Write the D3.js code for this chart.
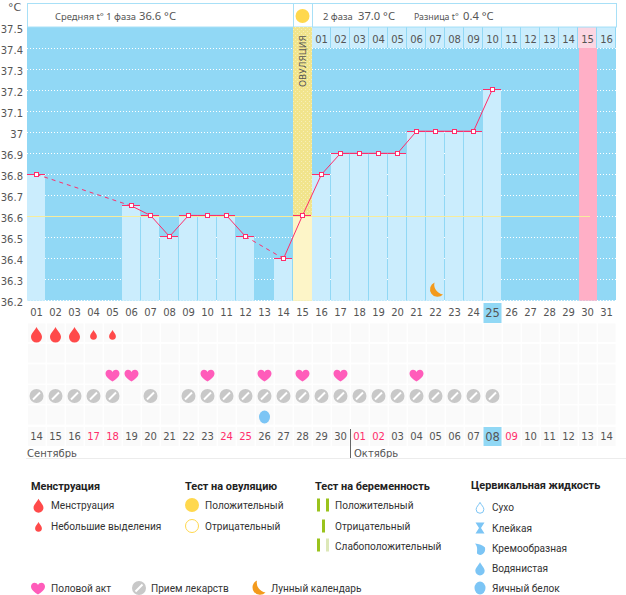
<!DOCTYPE html>
<html>
<head>
<meta charset="utf-8">
<script src="https://cdn.jsdelivr.net/npm/d3@7"></script>
<style>
body {margin: 0; background: #fff;}
svg {display: block;}
text {font-family: "DejaVu Sans", sans-serif; fill: #555;}
.axis path, .axis line {display: none;}
.leg text {font-family: Roboto, sans-serif; font-size: 10.1px; fill: #333;}
.leg text.ttl {font-weight: bold; font-size: 10.9px; fill: #222;}
</style>
</head>
<body>
<div id="chart"></div>
<script>
var days = d3.range(1, 32);
var dates = [14,15,16,17,18,19,20,21,22,23,24,25,26,27,28,29,30,1,2,3,4,5,6,7,8,9,10,11,12,13,14];
var redDates = [4,5,11,12,18,19,26];
var cycleLabels = [1,2,3,4,5,6,7,8,9,10,11,12,13,14,15,16];
var tempTicks = [36.2,36.3,36.4,36.5,36.6,36.7,36.8,36.9,37,37.1,37.2,37.3,37.4,37.5];
var tempDays = [1,6,7,8,9,10,11,12,14,15,16,17,18,19,20,21,22,23,24,25];
var tempVals = [36.8,36.65,36.605,36.505,36.605,36.605,36.605,36.505,36.4,36.605,36.8,36.9,36.9,36.9,36.9,37.005,37.005,37.005,37.005,37.205];
var bigDrops = [1,2,3];
var smallDrops = [4,5];
var hearts = [5,6,10,13,15,17,21];
var pills = [1,2,3,4,5,7,9,10,11,12,13,14,15,16,17,18,19,20,21,22,23,24,25];
var eggs = [13];
var moons = [22];
var ovulationDay = 15, periodDay = 30, todayDay = 25;
var phase1Mean = 36.6;

var svg = d3.select("#chart").append("svg").attr("width", 626).attr("height", 595);

var x = d3.scaleBand().domain(days).range([27, 616]);
var y = d3.scaleLinear().domain([36.2, 37.5]).range([300.7, 27]);
var cx = function(d) {return x(d) + x.bandwidth() / 2};
var two = function(d) {return d < 10 ? "0" + d : "" + d};

// dotted texture of the ovulation column
var dots = svg.append("defs").append("pattern").attr("id", "ovDots").attr("width", 4).attr("height", 4).attr("patternUnits", "userSpaceOnUse");
dots.append("rect").attr("width", 4).attr("height", 4).attr("fill", "#f1e48c");
dots.append("rect").attr("x", 1).attr("y", 1).attr("width", 1).attr("height", 1).attr("fill", "#f7efb8");
dots.append("rect").attr("x", 3).attr("y", 3).attr("width", 1).attr("height", 1).attr("fill", "#f7efb8");

// icons
var dropPath = function(s) {return "M0," + (-8*s) + "C" + (2*s) + "," + (-4*s) + " " + (5.5*s) + "," + (-1.5*s) + " " + (5.5*s) + "," + (2*s) + "A" + (5.5*s) + "," + (5.5*s) + " 0 1 1 " + (-5.5*s) + "," + (2*s) + "C" + (-5.5*s) + "," + (-1.5*s) + " " + (-2*s) + "," + (-4*s) + " 0," + (-8*s) + "Z"};
var heartPath = "M0,6.5C-3,4.5 -7,2 -7,-1.5C-7,-6 -1.5,-6.5 0,-3C1.5,-6.5 7,-6 7,-1.5C7,2 3,4.5 0,6.5Z";
var moonPath = "M-1,-7.5A7.5,7.5 0 1 0 7.5,4.5A10,10 0 0 1 -1,-7.5Z";

function pill(g, px, py) {
    g.append("circle").attr("cx", px).attr("cy", py).attr("r", 7).attr("fill", "#c8c8c8");
    g.append("line").attr("x1", px - 3.5).attr("x2", px + 3.5).attr("y1", py + 3.5).attr("y2", py - 3.5).attr("stroke", "#fff").attr("stroke-width", 2);
}

// plot background
svg.append("rect").attr("x", 27).attr("y", 27).attr("width", 589).attr("height", y(36.2) - 27).attr("fill", "#91d8f5");

// header
svg.append("rect").attr("x", 27.5).attr("y", 3.5).attr("width", 589).attr("height", 23.5).attr("fill", "#fff").attr("stroke", "#a8e0f7");
svg.selectAll(".hcell").data(days.slice(15)).enter().append("rect")
    .attr("x", function(d) {return x(d)})
    .attr("y", 27.5)
    .attr("width", x.bandwidth() - 1)
    .attr("height", 20.5)
    .attr("fill", function(d) {return d == periodDay ? "#fcd6e2" : "#cbedfd"});
svg.selectAll(".hlabel").data(cycleLabels).enter().append("text")
    .attr("x", function(d, i) {return cx(days[15 + i])})
    .attr("y", 43)
    .attr("text-anchor", "middle")
    .attr("font-size", 10)
    .text(two);
svg.append("line").attr("x1", 293.5).attr("x2", 293.5).attr("y1", 3).attr("y2", 27).attr("stroke", "#a8e0f7");
svg.append("line").attr("x1", 312.5).attr("x2", 312.5).attr("y1", 3).attr("y2", 27).attr("stroke", "#a8e0f7");
svg.append("circle").attr("cx", cx(ovulationDay)).attr("cy", 16).attr("r", 7).attr("fill", "#ffd84d");

var head = [[55, "Средняя t° 1 фаза", 9.4], [139, "36.6 °C", 11.2], [323, "2 фаза", 9.4], [358, "37.0 °C", 11.2], [414, "Разница t°", 8.8], [463, "0.4 °C", 11.2]];
svg.selectAll(".head").data(head).enter().append("text")
    .attr("x", function(d) {return d[0]})
    .attr("y", 19.5)
    .attr("font-size", function(d) {return d[2]})
    .style("font-family", "Noto Sans")
    .text(function(d) {return d[1]});
svg.append("text").attr("x", 8).attr("y", 11).attr("font-size", 11).text("°C");

// grid
svg.selectAll(".grid").data(tempTicks.slice(0, -1)).enter().append("line")
    .attr("x1", 27).attr("x2", 616)
    .attr("y1", function(d) {return y(d)})
    .attr("y2", function(d) {return y(d)})
    .attr("stroke", "#fff")
    .attr("stroke-dasharray", "1,2")
    .attr("shape-rendering", "crispEdges");

// ovulation and period columns
svg.append("rect").attr("x", x(periodDay) + 1).attr("y", 48).attr("width", x.bandwidth() - 1).attr("height", y(36.2) - 48).attr("fill", "#ffafc6");
svg.append("rect").attr("x", x(ovulationDay)).attr("y", 27).attr("width", x.bandwidth()).attr("height", y(36.2) - 27).attr("fill", "url(#ovDots)");

// bars
var temps = tempDays.map(function(d, i) {return {day: d, v: tempVals[i]}});
svg.selectAll(".bar").data(temps).enter().append("rect")
    .attr("x", function(d) {return x(d.day)})
    .attr("y", function(d) {return y(d.v)})
    .attr("width", function(d) {return d.day == ovulationDay ? x.bandwidth() : x.bandwidth() - 1})
    .attr("height", function(d) {return y(36.2) - y(d.v)})
    .attr("fill", function(d) {return d.day == ovulationDay ? "#fdf5c8" : "#cbedfd"});

svg.append("text")
    .attr("transform", "translate(" + (cx(ovulationDay) + 3.5) + ",87) rotate(-90)")
    .attr("font-size", 9)
    .text("ОВУЛЯЦИЯ");

// phase mean line
svg.append("line")
    .attr("x1", 27).attr("x2", cx(periodDay) + 2)
    .attr("y1", y(phase1Mean)).attr("y2", y(phase1Mean))
    .attr("stroke", "#f7ec9c")
    .attr("shape-rendering", "crispEdges");

// temperature line
var lineGen = d3.line().x(function(d) {return cx(d.day)}).y(function(d) {return y(d.v)});
d3.pairs(temps).forEach(function(p) {
    svg.append("path")
        .attr("d", lineGen(p))
        .attr("fill", "none")
        .attr("stroke", "#ff2d6b")
        .attr("stroke-dasharray", p[1].day - p[0].day > 1 ? "4,4" : null);
});
svg.selectAll(".cap").data(temps).enter().append("line")
    .attr("x1", function(d) {return x(d.day)})
    .attr("x2", function(d) {return x(d.day) + x.bandwidth() - 1})
    .attr("y1", function(d) {return y(d.v)})
    .attr("y2", function(d) {return y(d.v)})
    .attr("stroke", "#ff2d6b")
    .attr("shape-rendering", "crispEdges");
svg.selectAll(".pt").data(temps).enter().append("rect")
    .attr("x", function(d) {return cx(d.day) - 2})
    .attr("y", function(d) {return y(d.v) - 2})
    .attr("width", 4).attr("height", 4)
    .attr("fill", "#fff")
    .attr("stroke", "#ff2d6b")
    .attr("shape-rendering", "crispEdges");

svg.selectAll(".moon").data(moons).enter().append("path")
    .attr("d", moonPath)
    .attr("transform", function(d) {return "translate(" + cx(d) + ",290)"})
    .attr("fill", "#f39a1c");

// axes
var yAxis = d3.axisLeft(y).tickValues(tempTicks).tickSize(0).tickPadding(0)
    .tickFormat(function(d) {return d == 37 ? "37" : d3.format(".1f")(d)});
svg.append("g").attr("class", "axis").attr("transform", "translate(23,2)").call(yAxis)
    .selectAll("text").attr("font-family", "DejaVu Sans").attr("font-size", 10).style("fill", "#555");

// icon rows
var rows = [[323.5, 18.5], [344, 18.5], [364.5, 19], [385, 19], [405.5, 19], [427, 19]];
rows.forEach(function(r) {
    svg.append("g").selectAll("rect").data(days).enter().append("rect")
        .attr("x", function(d) {return x(d) + 1})
        .attr("y", r[0])
        .attr("width", x.bandwidth() - 1.5)
        .attr("height", r[1])
        .attr("fill", "#fafafa");
});

// today marks
svg.append("rect").attr("x", x(todayDay) + 0.5).attr("y", 303).attr("width", x.bandwidth() - 1).attr("height", 20).attr("fill", "#91d8f5");
svg.append("rect").attr("x", x(todayDay) + 0.5).attr("y", 427).attr("width", x.bandwidth() - 1).attr("height", 19).attr("fill", "#91d8f5");

var topAxis = d3.axisBottom(x).tickSize(0).tickPadding(0).tickFormat(two);
var gTop = svg.append("g").attr("class", "axis").attr("transform", "translate(0,309)").call(topAxis);
gTop.selectAll("text").attr("font-family", "DejaVu Sans").attr("font-size", function(d) {return d == todayDay ? 11.5 : 10}).style("fill", "#555");

var bottomAxis = d3.axisBottom(x).tickSize(0).tickPadding(0).tickFormat(function(d) {return two(dates[d - 1])});
var gBot = svg.append("g").attr("class", "axis").attr("transform", "translate(0,433)").call(bottomAxis);
gBot.selectAll("text").attr("font-family", "DejaVu Sans")
    .attr("font-size", function(d) {return d == todayDay ? 11.5 : 10})
    .style("fill", function(d) {return redDates.indexOf(d) >= 0 ? "#ff2d6b" : "#555"});

svg.append("line").attr("x1", 350.5).attr("x2", 350.5).attr("y1", 429).attr("y2", 458).attr("stroke", "#666");
svg.append("text").attr("x", 27).attr("y", 457).attr("font-size", 10).text("Сентябрь");
svg.append("text").attr("x", 354).attr("y", 457).attr("font-size", 10).text("Октябрь");
svg.append("line").attr("x1", 26).attr("x2", 626).attr("y1", 458.5).attr("y2", 458.5).attr("stroke", "#ececec");

var drop = function(d) {return "translate(" + cx(d) + ",335)"};
svg.selectAll(".bd").data(bigDrops).enter().append("path").attr("d", dropPath(1)).attr("transform", drop).attr("fill", "#ff4a4a");
svg.selectAll(".sd").data(smallDrops).enter().append("path").attr("d", dropPath(0.62)).attr("transform", drop).attr("fill", "#ff4a4a");
svg.selectAll(".ht").data(hearts).enter().append("path").attr("d", heartPath)
    .attr("transform", function(d) {return "translate(" + cx(d) + ",375)"})
    .attr("fill", "#ff5cba");
pills.forEach(function(d) {pill(svg, cx(d), 396)});
svg.selectAll(".eg").data(eggs).enter().append("ellipse")
    .attr("cx", cx).attr("cy", 417).attr("rx", 5.5).attr("ry", 6.5).attr("fill", "#7cc5f5");

// legend
var leg = svg.append("g").attr("class", "leg");
var legTitles = [[31, 486, "Менструация"], [185, 486, "Тест на овуляцию"], [315, 486, "Тест на беременность"], [471, 485, "Цервикальная жидкость"]];
var legItems = [
    [51, 505, "Менструация"], [51, 526, "Небольшие выделения"],
    [205, 505, "Положительный"], [205, 526, "Отрицательный"],
    [335, 505, "Положительный"], [335, 526, "Отрицательный"], [335, 546, "Слабоположительный"],
    [492, 507, "Сухо"], [492, 528, "Клейкая"], [492, 548, "Кремообразная"], [492, 568, "Водянистая"], [492, 588, "Яичный белок"],
    [51, 588, "Половой акт"], [151, 588, "Прием лекарств"], [271, 588, "Лунный календарь"]
];
leg.selectAll(".t").data(legTitles).enter().append("text").attr("class", "ttl")
    .attr("x", function(d) {return d[0]}).attr("y", function(d) {return d[1]}).attr("dy", ".35em")
    .text(function(d) {return d[2]});
leg.selectAll(".i").data(legItems).enter().append("text")
    .attr("x", function(d) {return d[0]}).attr("y", function(d) {return d[1]}).attr("dy", ".35em")
    .text(function(d) {return d[2]});

leg.append("path").attr("d", dropPath(0.9)).attr("transform", "translate(38.5,506)").attr("fill", "#ff4a4a");
leg.append("path").attr("d", dropPath(0.62)).attr("transform", "translate(38.5,527)").attr("fill", "#ff4a4a");
leg.append("circle").attr("cx", 192).attr("cy", 505).attr("r", 7).attr("fill", "#ffd84d");
leg.append("circle").attr("cx", 192).attr("cy", 526).attr("r", 6.5).attr("fill", "#fff").attr("stroke", "#ffd84d");
[[317, 505, "#9ac31c"], [326, 505, "#9ac31c"], [322, 526, "#9ac31c"], [317, 545, "#9ac31c"], [326, 545, "#dde8b8"]].forEach(function(b) {
    leg.append("rect").attr("x", b[0]).attr("y", b[1] - 6.5).attr("width", 3).attr("height", 13).attr("fill", b[2]);
});
leg.append("path").attr("d", dropPath(0.7)).attr("transform", "translate(480,508)").attr("fill", "#fff").attr("stroke", "#7cc5f5");
leg.append("path").attr("d", "M-4.5,-5.5H4.5L1,0L4.5,5.5H-4.5L-1,0Z").attr("transform", "translate(480,528)").attr("fill", "#7cc5f5");
leg.append("path").attr("d", "M-5,-5.5C-1,-5 3,-4 5,-1.5A5,6 0 0 1 -3,4.5C-3,1 -2,-2 -5,-5.5Z").attr("transform", "translate(480,549)").attr("fill", "#7cc5f5");
leg.append("path").attr("d", dropPath(0.85)).attr("transform", "translate(480,569)").attr("fill", "#7cc5f5");
leg.append("ellipse").attr("cx", 480).attr("cy", 588).attr("rx", 5.5).attr("ry", 6.5).attr("fill", "#7cc5f5");
leg.append("path").attr("d", heartPath).attr("transform", "translate(38,588)").attr("fill", "#ff5cba");
pill(leg, 139, 588);
leg.append("path").attr("d", moonPath).attr("transform", "translate(258,588)").attr("fill", "#f39a1c");
</script>
</body>
</html>
